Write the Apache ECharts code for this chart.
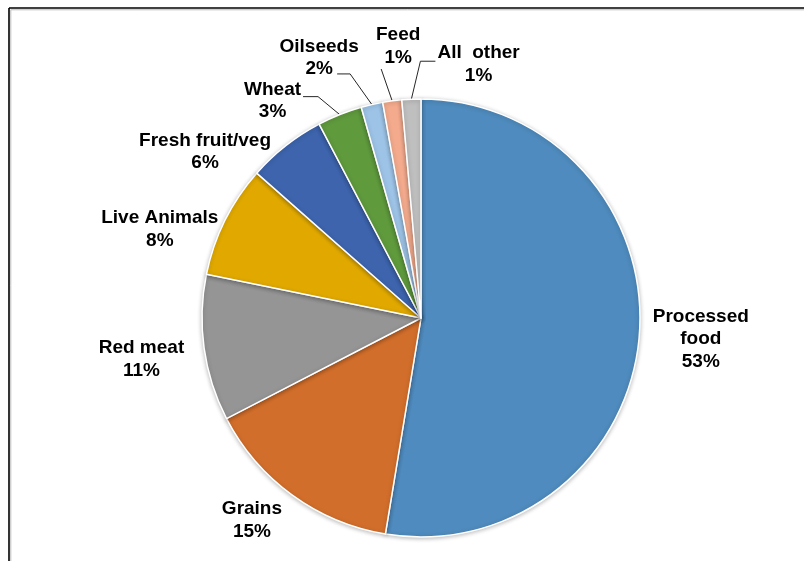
<!DOCTYPE html>
<html>
<head>
<meta charset="utf-8">
<script src="https://cdn.jsdelivr.net/npm/echarts@6/dist/echarts.min.js"></script>
<style>
html,body{margin:0;padding:0;background:#fff;}
#chart{width:804px;height:561px;}
</style>
</head>
<body>
<div id="chart"></div>
<script>
var categories = ['Processed food', 'Grains', 'Red meat', 'Live Animals', 'Fresh fruit/veg', 'Wheat', 'Oilseeds', 'Feed', 'All  other'];
var values = [52.6, 14.8, 10.8, 8.3, 5.8, 3.3, 1.6, 1.4, 1.4];
var colors = ['#4F8BBE', '#D26E2B', '#959595', '#E1A900', '#3D64AD', '#5F9A3D', '#9DC3E6', '#F3AA8D', '#BFBFBF'];
var withLeader = [false, false, false, false, false, true, true, true, true];

// label fine placement relative to library-computed label position [dx, dy]
var labelNudge = [[-17.5, 2], [15, 14], [11, 9], [23, 15], [11, 17], [-16.5, -1], [7, -33], [47, -41], [126, -21]];

var chart = echarts.init(document.getElementById('chart'), null, {renderer: 'canvas'});

var data = categories.map(function (c, i) {
  return {
    name: c,
    value: values[i],
    itemStyle: {color: colors[i]},
    labelLine: {show: withLeader[i]}
  };
});

function leaderPoints(i, start, cx, cy, w, h) {
  var end, bend;
  if (i === 5) { // Wheat
    end = [cx + w / 2 + 2, cy - 4]; bend = [end[0] + 15, end[1]];
    return [start, bend, end];
  }
  if (i === 6) { // Oilseeds
    end = [cx + 18, cy + 16]; bend = [end[0] + 13, end[1]];
    return [start, bend, end];
  }
  if (i === 7) { // Feed
    end = [cx - 17, cy + 23];
    return [start, end, end];
  }
  // All other
  end = [cx - w / 2 - 2, cy - 3]; bend = [end[0] - 15, end[1]];
  return [start, bend, end];
}

chart.setOption({
  animation: false,
  backgroundColor: '#ffffff',
  graphic: [
    {type: 'line', shape: {x1: 9, y1: 8, x2: 9, y2: 561}, style: {stroke: '#000', lineWidth: 1.6}},
    {type: 'line', shape: {x1: 9, y1: 8, x2: 804, y2: 8}, style: {stroke: '#000', lineWidth: 1.6}},
    {type: 'line', shape: {x1: 10.8, y1: 9.8, x2: 10.8, y2: 561}, style: {stroke: '#bbb', lineWidth: 1}},
    {type: 'line', shape: {x1: 10.8, y1: 9.8, x2: 804, y2: 9.8}, style: {stroke: '#bbb', lineWidth: 1}}
  ],
  series: [{
    type: 'pie',
    center: [421, 318],
    radius: 219,
    startAngle: 90,
    clockwise: true,
    avoidLabelOverlap: false,
    data: data,
    itemStyle: {
      borderColor: '#fff',
      borderWidth: 1.5,
      shadowBlur: 4,
      shadowColor: 'rgba(0,0,0,0.25)',
      shadowOffsetY: 1
    },
    label: {
      show: true,
      position: 'outside',
      fontFamily: 'Liberation Sans, Arial, sans-serif',
      fontWeight: 'bold',
      fontSize: 19,
      lineHeight: 22.5,
      color: '#000',
      formatter: function (p) {
        return p.name.replace('Processed ', 'Processed\n') + '\n' + Math.round(p.percent) + '%';
      }
    },
    labelLine: {
      length: 14,
      length2: 12,
      lineStyle: {color: '#262626', width: 1}
    },
    labelLayout: function (params) {
      var i = params.dataIndex;
      var r = params.labelRect;
      var n = labelNudge[i];
      var cx = r.x + r.width / 2 + n[0];
      var cy = r.y + r.height / 2 + n[1];
      var out = {x: cx, y: cy, align: 'center', verticalAlign: 'middle', hideOverlap: false, moveOverlap: false};
      if (withLeader[i] && params.labelLinePoints) {
        out.labelLinePoints = leaderPoints(i, params.labelLinePoints[0], cx, cy, r.width, r.height);
      }
      return out;
    }
  }]
});
</script>
</body>
</html>
